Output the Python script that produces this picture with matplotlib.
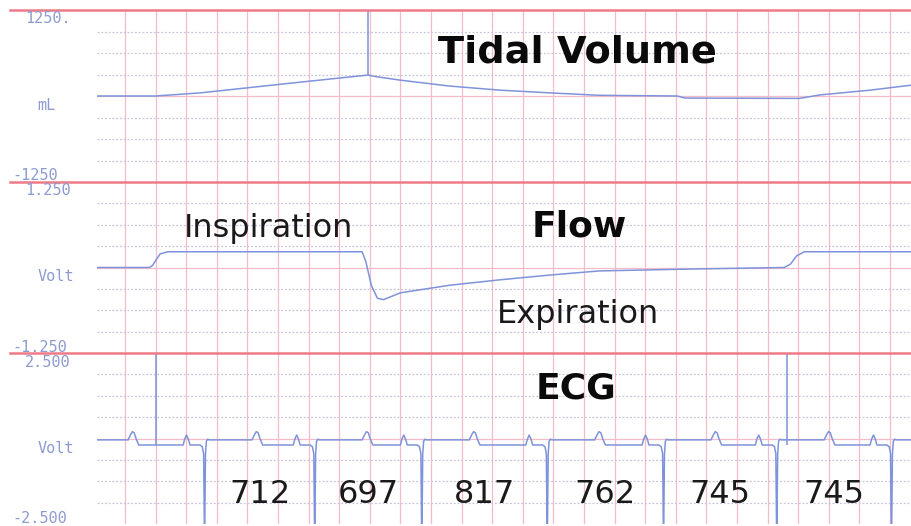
import numpy as np
import matplotlib.pyplot as plt
from matplotlib.lines import Line2D

plt.rcParams['font.family'] = ['DejaVu Sans']

W, H = 912, 526

# --- data read off the strip (time in s, grid = 0.2 s) ---
# tidal volume (mL)
tv_t = [-0.18, 0.20, 0.49, 1.14, 1.59, 1.63, 1.80, 2.12, 2.45, 2.78, 3.10,
        3.61, 3.66, 4.41, 4.54, 4.87, 5.15]
tv_ml = [0, 0, 45, 200, 305, 285, 230, 145, 85, 45, 10, 0, -30, -35, 15, 85, 160]
tv_marker_t = 1.59

# flow (Volt)
flow_t = [-0.18, 0.16, 0.18, 0.20, 0.23, 0.28, 1.55, 1.575, 1.61, 1.65, 1.69,
          1.80, 2.12, 2.45, 2.78, 3.10, 3.76, 4.31, 4.35, 4.39, 4.44, 5.15]
flow_v = [0, 0, 0.03, 0.10, 0.20, 0.23, 0.23, 0.08, -0.26, -0.45, -0.47,
          -0.37, -0.26, -0.18, -0.11, -0.05, -0.02, 0, 0.05, 0.17, 0.23, 0.23]

# ECG: R spike times and the shape of one beat around its R spike
ecg_r_t = [-0.29, 0.52, 1.24, 1.94, 2.76, 3.52, 4.26, 5.01]
beat_dt = [-0.16, -0.14, -0.13, -0.118, -0.106, -0.095, -0.03, -0.015, -0.006,
           0.0, 0.006, 0.012, 0.02, 0.03, 0.31, 0.325, 0.338, 0.35, 0.362,
           0.38]
beat_v = [-0.19, -0.19, -0.02, 0.10, -0.02, -0.19, -0.19, -0.24, -0.45,
          -3.2, -0.45, -0.08, -0.02, -0.04, -0.04, 0.10, 0.20, 0.17, 0.0,
          -0.19]
ecg_marker_t = [0.20, 4.33]
rr_labels = ['712', '697', '817', '762', '745', '745']

xlim = (-0.183, 5.144)
grid_t = np.arange(0, 5.1, 0.2)

line_col = '#7f93da'
pink = '#f3bcc8'
red = '#ee7a88'
dots = '#c4c7d8'
lab_col = '#8d9bd0'


def px_rect(top, bottom, left=97, right=912):
    return [left / W, 1 - bottom / H, (right - left) / W, (bottom - top) / H]


def setup(ax, lim):
    ax.set_xlim(*xlim)
    ax.set_ylim(-lim, lim)
    ax.axis('off')
    for t in grid_t:
        ax.axvline(t, color=pink, lw=0.9, zorder=0)
    for k in range(1, 8):
        y = -lim + k * lim / 4
        if k == 4:
            ax.axhline(y, color=pink, lw=0.9, zorder=0)
        else:
            ax.axhline(y, color=dots, lw=0.9, ls=(0, (1.5, 1.5)), zorder=0)


fig = plt.figure(figsize=(W / 100, H / 100), dpi=100)
fig.patch.set_facecolor('white')

ax1 = fig.add_axes(px_rect(10, 182))
ax2 = fig.add_axes(px_rect(182, 353))
ax3 = fig.add_axes(px_rect(353, 524))
setup(ax1, 1250)
setup(ax2, 1.25)
setup(ax3, 2.5)

# tidal volume
ax1.plot(tv_t, tv_ml, color=line_col, lw=1.1)
ax1.vlines(tv_marker_t, tv_ml[tv_t.index(tv_marker_t)], 1250, color=line_col, lw=1.1)
ax1.text(2.96, 480, 'Tidal Volume', ha='center', va='baseline',
         fontsize=27.5, fontweight='bold', color='#0a0a0a')

# flow
ax2.plot(flow_t, flow_v, color=line_col, lw=1.1)
ax2.text(2.97, 0.446, 'Flow', ha='center', va='baseline',
         fontsize=26, fontweight='bold', color='#0a0a0a')
ax2.text(0.94, 0.446, 'Inspiration', ha='center', va='baseline',
         fontsize=23, color='#1a1a1a')
ax2.text(2.96, -0.81, 'Expiration', ha='center', va='baseline',
         fontsize=23, color='#1a1a1a')

# ECG
ecg_t = np.concatenate([np.array(beat_dt) + r for r in ecg_r_t])
ecg_v = np.tile(beat_v, len(ecg_r_t))
ax3.plot(ecg_t, ecg_v, color=line_col, lw=1.1)
ax3.vlines(ecg_marker_t, -0.19, 2.5, color=line_col, lw=1.1)
ax3.text(2.95, 1.155, 'ECG', ha='center', va='baseline',
         fontsize=26, fontweight='bold', color='#0a0a0a')
for i, lab in enumerate(rr_labels):
    mid = (ecg_r_t[i + 1] + ecg_r_t[i + 2]) / 2
    ax3.text(mid, -1.886, lab, ha='center', va='baseline',
             fontsize=23, color='#1a1a1a')

# red separators between channels
for y in [10, 182, 353]:
    fig.add_artist(Line2D([10 / W, 1], [1 - y / H] * 2, transform=fig.transFigure,
                          color=red, lw=1.8))

# scale labels on the left
scale_labels = [('1250.', 25, 18), ('mL', 37, 105), ('-1250', 12, 175),
                ('1.250', 25, 190), ('Volt', 38, 276), ('-1.250', 12, 347),
                ('2.500', 25, 362), ('Volt', 38, 448), ('-2.500', 12, 518)]
for s, x, y in scale_labels:
    fig.text(x / W, 1 - (y + 5) / H, s, ha='left', va='baseline',
             family='DejaVu Sans Mono', fontsize=11, color=lab_col)

fig.savefig('out.png', dpi=100)
